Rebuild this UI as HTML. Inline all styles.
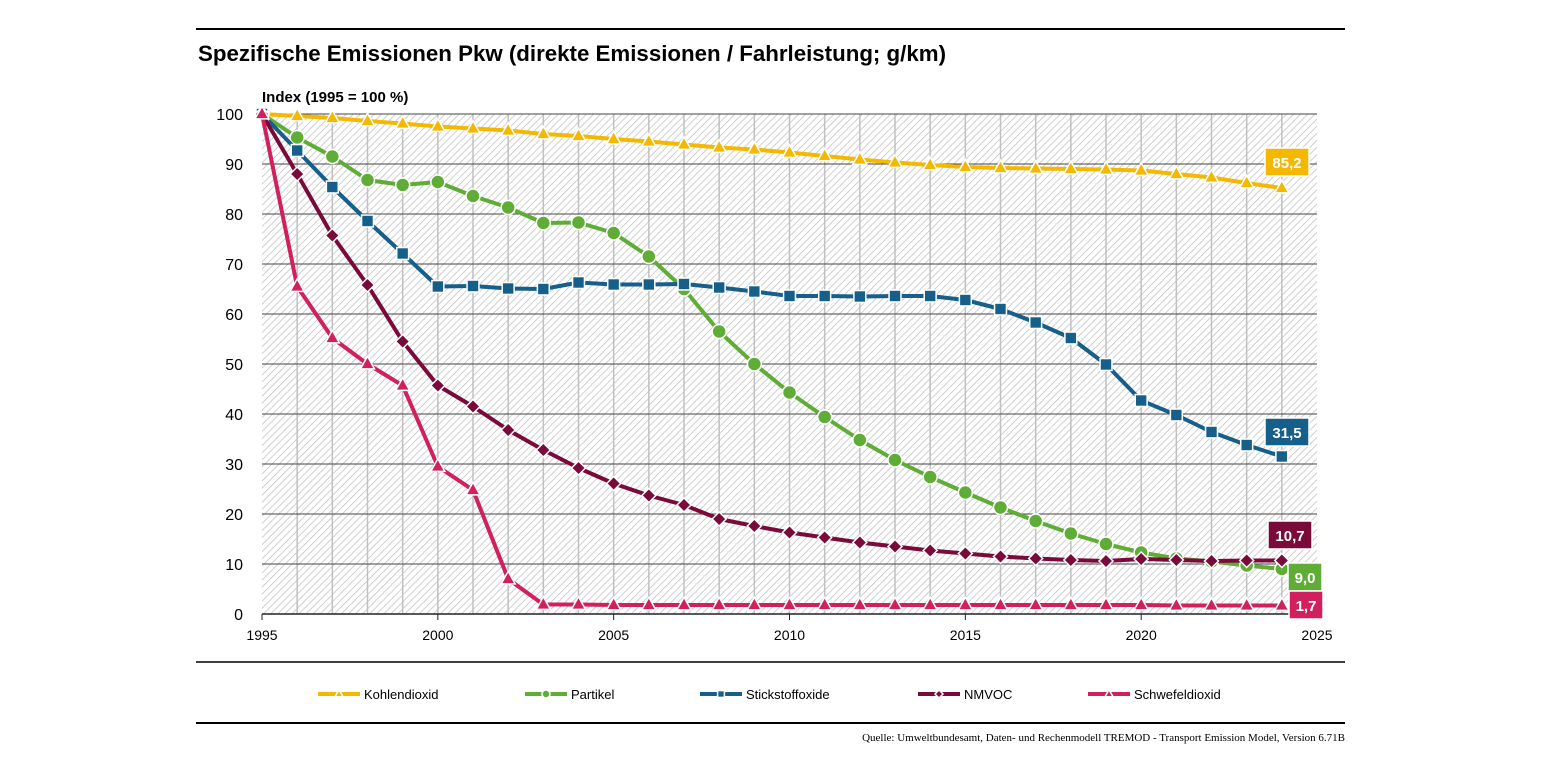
<!DOCTYPE html><html><head><meta charset="utf-8"><style>body{margin:0;background:#fff;}svg{display:block;font-family:"Liberation Sans",sans-serif;}</style></head><body>
<svg id="s" width="1545" height="775" xmlns="http://www.w3.org/2000/svg">
<defs><pattern id="h" width="5" height="5" patternUnits="userSpaceOnUse" patternTransform="rotate(45)"><rect width="5" height="5" fill="#fff"/><line x1="0" y1="0" x2="0" y2="5" stroke="#c4c4c4" stroke-width="1.6"/></pattern></defs>
<line x1="196" y1="29" x2="1345" y2="29" stroke="#000" stroke-width="2"/>
<text x="198" y="61" font-size="22" font-weight="bold" textLength="748" lengthAdjust="spacingAndGlyphs">Spezifische Emissionen Pkw (direkte Emissionen / Fahrleistung; g/km)</text>
<text x="262" y="102" font-size="15" font-weight="bold">Index (1995 = 100 %)</text>
<rect x="262" y="114" width="1055" height="500" fill="url(#h)"/>
<g id="g"></g>
<line x1="196" y1="662" x2="1345" y2="662" stroke="#000" stroke-width="1.5"/>
<line x1="196" y1="723" x2="1345" y2="723" stroke="#000" stroke-width="2"/>
<text x="1345" y="741" font-size="11" text-anchor="end" font-family="Liberation Serif,serif">Quelle: Umweltbundesamt, Daten- und Rechenmodell TREMOD - Transport Emission Model, Version 6.71B</text>
</svg>
<script>
const g=document.getElementById('g');let h='';
const X=y=>262+(y-1995)*35.167, Y=v=>614-5*v;
for(let y=1996;y<=2024;y++)h+=`<line x1="${X(y)}" y1="114" x2="${X(y)}" y2="614" stroke="#c0c0c0" stroke-width="1.5"/>`;
for(let v=0;v<=100;v+=10){h+=`<line x1="262" y1="${Y(v)}" x2="1317" y2="${Y(v)}" stroke="#444" stroke-width="1"/>`;h+=`<text x="243" y="${Y(v)+6}" font-size="16" text-anchor="end">${v}</text>`;}
h+=`<line x1="262" y1="614" x2="1317" y2="614" stroke="#222" stroke-width="1.5"/>`;
for(let y=1995;y<=2025;y+=5){h+=`<line x1="${X(y)}" y1="614" x2="${X(y)}" y2="620" stroke="#222"/><text x="${X(y)}" y="640" font-size="14" text-anchor="middle">${y}</text>`;}
const S=[
['#f5b800','t',[100,99.6,99.2,98.6,98.1,97.5,97.1,96.7,96.0,95.6,95.0,94.5,93.9,93.3,92.9,92.3,91.6,90.9,90.3,89.8,89.4,89.2,89.1,89.0,88.9,88.7,88.0,87.3,86.2,85.2],'85,2',162,'Kohlendioxid',318,1287],
['#5fad36','c',[100,95.3,91.5,86.8,85.8,86.4,83.6,81.3,78.2,78.3,76.2,71.5,65.0,56.5,50.0,44.3,39.4,34.8,30.8,27.4,24.3,21.3,18.6,16.1,14.0,12.3,11.1,10.5,9.7,9.0],'9,0',577,'Partikel',525,1305],
['#155f8a','s',[100,92.7,85.4,78.6,72.1,65.5,65.6,65.1,65.0,66.3,65.9,65.9,66.0,65.3,64.5,63.6,63.6,63.5,63.6,63.6,62.8,61.0,58.3,55.2,49.9,42.7,39.8,36.4,33.8,31.5],'31,5',432,'Stickstoffoxide',700,1287],
['#7a0a3a','d',[100,88,75.7,65.8,54.5,45.7,41.5,36.8,32.8,29.2,26.1,23.7,21.8,19.0,17.6,16.3,15.3,14.3,13.5,12.7,12.1,11.5,11.1,10.8,10.6,11.0,10.8,10.6,10.7,10.7],'10,7',535,'NMVOC',918,1290],
['#d0205e','t',[100,65.5,55.2,50.0,45.7,29.5,24.8,7.0,1.9,1.9,1.8,1.8,1.8,1.8,1.8,1.8,1.8,1.8,1.8,1.8,1.8,1.8,1.8,1.8,1.8,1.8,1.7,1.7,1.7,1.7],'1,7',605,'Schwefeldioxid',1088,1306]];
function mk(t,x,y,c,r){if(t=='t')return `<polygon points="${x},${y-r*1.1} ${x+r},${y+r*0.7} ${x-r},${y+r*0.7}" fill="${c}" stroke="#fff" stroke-width="1.5"/>`;
if(t=='c')return `<circle cx="${x}" cy="${y}" r="${r}" fill="${c}" stroke="#fff" stroke-width="1.5"/>`;
if(t=='s')return `<rect x="${x-r*.85}" y="${y-r*.85}" width="${r*1.7}" height="${r*1.7}" fill="${c}" stroke="#fff" stroke-width="1.5"/>`;
return `<polygon points="${x},${y-r} ${x+r},${y} ${x},${y+r} ${x-r},${y}" fill="${c}" stroke="#fff" stroke-width="1.5"/>`;}
for(const [c,t,d,l,ly,n,lx,cx] of S){
 h+=`<polyline fill="none" stroke="${c}" stroke-width="4" stroke-linejoin="round" points="${d.map((v,i)=>X(1995+i)+','+Y(v)).join(' ')}"/>`;
 d.forEach((v,i)=>h+=mk(t,X(1995+i),Y(v),c,7));
 const w=l.length>3?44:34;
 h+=`<rect x="${cx-w/2}" y="${ly-14}" width="${w}" height="28" fill="${c}" stroke="#fff" stroke-width="1.5"/><text x="${cx}" y="${ly+6}" font-size="15" font-weight="bold" fill="#fff" text-anchor="middle">${l}</text>`;
 h+=`<line x1="${lx}" y1="694" x2="${lx+42}" y2="694" stroke="${c}" stroke-width="4"/>`+mk(t,lx+21,694,c,4)+`<text x="${lx+46}" y="699" font-size="13">${n}</text>`;
}
g.innerHTML=h;
</script></body></html>
